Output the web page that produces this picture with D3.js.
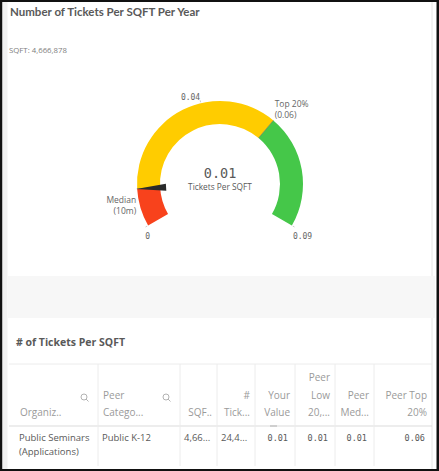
<!DOCTYPE html>
<html><head><meta charset="utf-8">
<script src="https://cdn.jsdelivr.net/npm/d3@7"></script>
<style>
html,body{margin:0;padding:0;background:#fff;}
svg{display:block;}
</style></head>
<body>
<script>
// ---- data ----
const chartTitle = "Number of Tickets Per SQFT Per Year";
const subtitle = "SQFT: 4,666,878";
const gaugeMin = 0, gaugeMax = 0.09;
const segmentBounds = [0, 0.01, 0.06, 0.09];
const segmentColors = ["#f8421c", "#ffcc00", "#45c749"];
const gaugeValue = 0.01;
const gaugeValueLabel = "0.01";
const gaugeMeasure = "Tickets Per SQFT";
const tickValues = [0, 0.04, 0.09];
const tickLabels = ["0", "0.04", "0.09"];
const refLines = [{value: 0.01, lines: ["Median", "(10m)"], side: "left"},
                  {value: 0.06, lines: ["Top 20%", "(0.06)"], side: "right"}];
const tableTitle = "# of Tickets Per SQFT";
const headerLines = [["Organiz.."], ["Peer", "Catego..."], ["SQF.."], ["#", "Tick..."], ["Your", "Value"], ["Peer", "Low", "20,..."], ["Peer", "Med..."], ["Peer Top", "20%"]];
const headerSearch = [true, true, false, false, false, false, false, false];
const colAlign = ["left", "left", "left", "left", "right", "right", "right", "right"];
const rowValues = [["Public Seminars", "(Applications)"], ["Public K-12"], ["4,66..."], ["24,4..."], ["0.01"], ["0.01"], ["0.01"], ["0.06"]];
const colEdges = [9, 98, 180, 217, 255, 295, 335, 374, 432];

const W = 439, H = 471;
const svg = d3.select("body").append("svg").attr("width", W).attr("height", H);
const sans = "'Open Sans', 'Noto Sans', sans-serif";
const mono = "'DejaVu Sans Mono', monospace";

// frame
svg.append("rect").attr("width", W).attr("height", H).attr("fill", "#111");
svg.append("rect").attr("x", 2.5).attr("y", 2).attr("width", 434).attr("height", 467).attr("fill", "#fff");
svg.append("rect").attr("x", 2.5).attr("y", 2).attr("width", 5).attr("height", 467).attr("fill", "#f1f1f1");
svg.append("line").attr("x1", 432).attr("x2", 432).attr("y1", 2).attr("y2", 469).attr("stroke", "#e6e6e6");

// titles
svg.append("text").attr("x", 10).attr("y", 16).text(chartTitle)
  .attr("font-family", "Lato, sans-serif").attr("font-weight", 700).attr("font-size", 11.5).attr("fill", "#595959");
svg.append("text").attr("x", 9).attr("y", 53).text(subtitle)
  .attr("font-family", sans).attr("font-size", 7.8).attr("fill", "#808080");

// gauge
const cx = 220, cy = 184, rOut = 83, rIn = 60;
const ang = d3.scaleLinear().domain([gaugeMin, gaugeMax]).range([-2 * Math.PI / 3, 2 * Math.PI / 3]);
const g = svg.append("g").attr("transform", `translate(${cx},${cy})`);
const arc = d3.arc().innerRadius(rIn).outerRadius(rOut);
segmentColors.forEach((c, i) => {
  g.append("path").attr("d", arc({startAngle: ang(segmentBounds[i]), endAngle: ang(segmentBounds[i + 1])}))
    .attr("fill", c);
});
// segment divider lines
segmentBounds.slice(1, -1).forEach(v => {
  const a = ang(v);
  g.append("line")
    .attr("x1", rIn * Math.sin(a)).attr("y1", -rIn * Math.cos(a))
    .attr("x2", rOut * Math.sin(a)).attr("y2", -rOut * Math.cos(a))
    .attr("stroke", "#6f6f4f").attr("stroke-width", 0.8).attr("opacity", 0.7);
});
// ticks
tickValues.forEach((v, i) => {
  const a = ang(v);
  const s = Math.sin(a), c = Math.cos(a);
  g.append("line").attr("x1", (rOut + 1) * s).attr("y1", -(rOut + 1) * c)
    .attr("x2", (rOut + 3) * s).attr("y2", -(rOut + 3) * c).attr("stroke", "#ccc").attr("stroke-width", 1);
  let tx, ty, anchor;
  if (i === 0) { anchor = "end"; tx = rOut * s + 2; ty = -rOut * c + 13; }
  else if (i === tickValues.length - 1) { anchor = "start"; tx = rOut * s + 1; ty = -rOut * c + 13; }
  else { anchor = "end"; tx = (rOut + 3) * s; ty = -(rOut + 3) * c; }
  g.append("text").attr("x", tx).attr("y", ty).text(tickLabels[i])
    .attr("text-anchor", anchor).attr("font-family", mono).attr("font-size", 8).attr("fill", "#666");
});
// reference labels
refLines.forEach(r => {
  const a = ang(r.value);
  const s = Math.sin(a), c = Math.cos(a);
  const x = (rOut + 2) * s, y = -(rOut + 2) * c;
  if (r.side === "left") {
    r.lines.forEach((l, k) => g.append("text").attr("x", x + 1).attr("y", 19 + k * 11).text(l)
      .attr("text-anchor", "end").attr("font-family", sans).attr("font-size", 8.5).attr("fill", "#666"));
  } else {
    r.lines.forEach((l, k) => g.append("text").attr("x", x).attr("y", y - 12 + k * 11).text(l)
      .attr("text-anchor", "start").attr("font-family", sans).attr("font-size", 8.5).attr("fill", "#666"));
  }
});
// value needle (wedge)
{
  const a = ang(gaugeValue);
  const s = Math.sin(a), c = Math.cos(a);
  const px = c, py = s; // perpendicular
  const r1 = rOut + 1, r2 = rIn - 6, w = 3.5;
  const pts = [
    [r1 * s, -r1 * c],
    [r2 * s + w * px, -r2 * c + w * py],
    [r2 * s - w * px, -r2 * c - w * py]
  ];
  g.append("path").attr("d", d3.line()(pts) + "Z").attr("fill", "#2a2a2a");
}
g.append("text").attr("x", 0).attr("y", -6).text(gaugeValueLabel)
  .attr("text-anchor", "middle").attr("font-family", mono).attr("font-size", 13.5).attr("fill", "#595959");
g.append("text").attr("x", 0).attr("y", 6).text(gaugeMeasure)
  .attr("text-anchor", "middle").attr("font-family", sans).attr("font-size", 8.3).attr("fill", "#595959");

// gray band
svg.append("rect").attr("x", 8).attr("y", 276).attr("width", 427).attr("height", 42).attr("fill", "#f7f7f7");

// table
svg.append("text").attr("x", 16).attr("y", 346).text(tableTitle)
  .attr("font-family", sans).attr("font-weight", 700).attr("font-size", 10.5).attr("fill", "#595959");
const tTop = 364, tHead = 426, tBot = 466;
svg.append("line").attr("x1", colEdges[0]).attr("x2", colEdges[colEdges.length - 1]).attr("y1", tTop).attr("y2", tTop)
  .attr("stroke", "#ececec");
svg.append("line").attr("x1", colEdges[0]).attr("x2", colEdges[colEdges.length - 1]).attr("y1", tHead).attr("y2", tHead)
  .attr("stroke", "#dcdcdc").attr("stroke-width", 1.2);
colEdges.slice(1, -1).forEach(x => {
  svg.append("line").attr("x1", x).attr("x2", x).attr("y1", tTop).attr("y2", tBot).attr("stroke", "#ececec");
});
headerLines.forEach((lines, i) => {
  const left = colEdges[i], right = colEdges[i + 1];
  const anchorRight = (i >= 2);
  const x = anchorRight ? right - 5 : left + 5;
  const n = lines.length;
  lines.forEach((l, k) => {
    svg.append("text").attr("x", x + (i === 0 ? 6 : 0)).attr("y", 416 - (n - 1 - k) * 17.5).text(l)
      .attr("text-anchor", anchorRight ? "end" : "start")
      .attr("font-family", sans).attr("font-size", 10).attr("fill", "#9a9a9a");
  });
  if (headerSearch[i]) {
    const sx = right - 14, sy = 397;
    svg.append("circle").attr("cx", sx).attr("cy", sy).attr("r", 3).attr("fill", "none").attr("stroke", "#aaa").attr("stroke-width", 0.9);
    svg.append("line").attr("x1", sx + 2.1).attr("y1", sy + 2.1).attr("x2", sx + 4.5).attr("y2", sy + 4.5).attr("stroke", "#aaa").attr("stroke-width", 0.9);
  }
});
// sort indicator
svg.append("rect").attr("x", 270).attr("y", 425).attr("width", 7).attr("height", 2).attr("fill", "#cfcfcf");
rowValues.forEach((lines, i) => {
  const left = colEdges[i], right = colEdges[i + 1];
  const r = colAlign[i] === "right";
  lines.forEach((l, k) => {
    svg.append("text").attr("x", r ? right - 7 : left + 4 + (i === 0 ? 6 : 0)).attr("y", 441 + k * 14).text(l)
      .attr("text-anchor", r ? "end" : "start")
      .attr("font-family", r ? mono : sans).attr("font-size", r ? 8.5 : 9.5).attr("fill", "#595959");
  });
});
</script>
</body></html>
